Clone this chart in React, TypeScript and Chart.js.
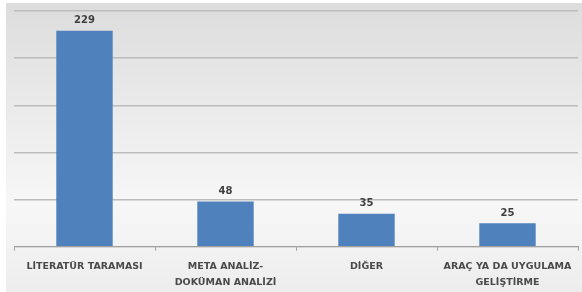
import React, { useEffect, useRef } from "react";
import { Chart, registerables } from "chart.js";

Chart.register(...registerables);

const categories: (string | string[])[] = [
  "LİTERATÜR TARAMASI",
  ["META ANALİZ-", "DOKÜMAN ANALİZİ"],
  "DİĞER",
  ["ARAÇ YA DA UYGULAMA", "GELİŞTİRME"],
];
const values = [229, 48, 35, 25];
const yTicks = [0, 50, 100, 150, 200, 250];

const bgPlugin = {
  id: "bg",
  beforeDraw(chart: any) {
    const { ctx, width, height } = chart;
    ctx.save();
    const g = ctx.createLinearGradient(0, 0, 0, height);
    g.addColorStop(0, "#dcdcdc");
    g.addColorStop(0.7, "#f7f7f7");
    g.addColorStop(1, "#ededed");
    ctx.fillStyle = "#ffffff";
    ctx.fillRect(0, 0, width, height);
    ctx.fillStyle = g;
    ctx.fillRect(6, 3, width - 6, height - 3);
    ctx.restore();
  },
};

const labelPlugin = {
  id: "vals",
  afterDatasetsDraw(chart: any) {
    const { ctx } = chart;
    const meta = chart.getDatasetMeta(0);
    ctx.save();
    ctx.font = "bold 10px 'DejaVu Sans', sans-serif";
    ctx.fillStyle = "#404040";
    ctx.textAlign = "center";
    ctx.textBaseline = "bottom";
    meta.data.forEach((el: any, i: number) => {
      ctx.fillText(String(values[i]), el.x, el.y - 5);
    });
    ctx.restore();
  },
};

export default function App() {
  const ref = useRef<HTMLCanvasElement>(null);
  useEffect(() => {
    document.body.style.margin = "0";
    const chart = new Chart(ref.current!, {
      type: "bar",
      data: {
        labels: categories,
        datasets: [
          {
            data: values,
            backgroundColor: "#4f81bd",
            borderWidth: 0,
            categoryPercentage: 1,
            barPercentage: 0.4,
          },
        ],
      },
      options: {
        animation: false,
        responsive: false,
        maintainAspectRatio: false,
        layout: { padding: { left: 14, right: 4, top: 11, bottom: 0 } },
        plugins: { legend: { display: false }, tooltip: { enabled: false } },
        scales: {
          x: {
            offset: true,
            afterFit(scale: any) {
              scale.height = scale.height - 7;
            },
            grid: {
              display: true,
              offset: true,
              drawOnChartArea: false,
              drawTicks: true,
              tickLength: 4,
              color: "#a0a0a0",
            },
            border: { display: true, color: "#a0a0a0", width: 1 },
            ticks: {
              maxRotation: 0,
              autoSkip: false,
              color: "#4a4a4a",
              padding: 8,
              font: { family: "'DejaVu Sans', sans-serif", size: 9.5, weight: "bold", lineHeight: 1.7 },
            },
          },
          y: {
            min: 0,
            max: 250,
            afterBuildTicks(scale: any) {
              scale.ticks = yTicks.map((v) => ({ value: v }));
            },
            grid: { color: "#bcbcbc", lineWidth: 1.5, drawTicks: false },
            border: { display: false },
            ticks: { display: false },
          },
        },
      },
      plugins: [bgPlugin, labelPlugin],
    });
    return () => chart.destroy();
  }, []);
  return <canvas ref={ref} width={582} height={292} style={{ display: "block" }} />;
}
